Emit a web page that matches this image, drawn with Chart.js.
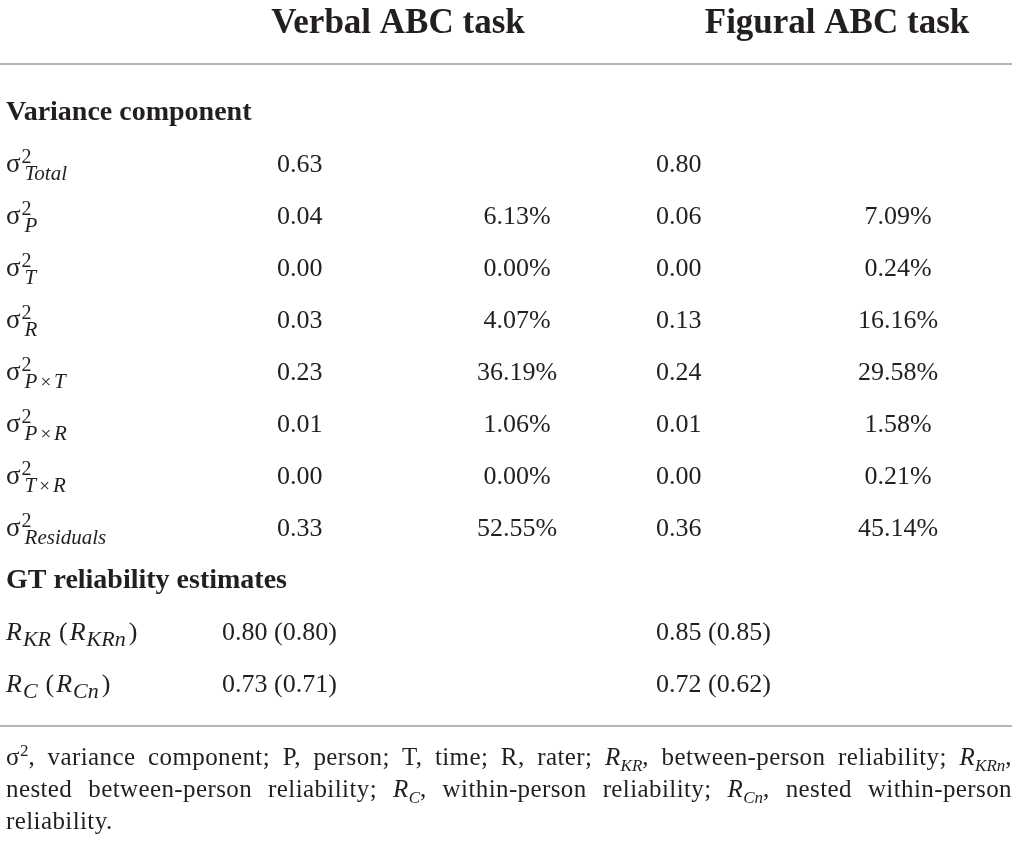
<!DOCTYPE html>
<html>
<head>
<meta charset="utf-8">
<script src="https://cdn.jsdelivr.net/npm/chart.js@4.4.1/dist/chart.umd.min.js"></script>
<style>
  body { margin: 0; background: #fff; }
  #wrap { position: relative; width: 1017px; height: 857px; }
  #note { position: absolute; left: 6px; width: 1006px; top: 741px; font: 25px "Liberation Serif", serif; letter-spacing: 0.4px; color: #231f20; line-height: 32px; }
  #note .j { text-align: justify; text-align-last: justify; }
  #note sup, #note sub { font-size: 17px; line-height: 0; letter-spacing: 0; }
</style>
</head>
<body>
<div id="wrap">
  <canvas id="tbl"></canvas>
  <div id="note">
    <div class="j">σ<sup>2</sup>, variance component; P, person; T, time; R, rater; <i>R</i><sub><i>KR</i></sub>, between-person reliability; <i>R</i><sub><i>KRn</i></sub>,</div>
    <div class="j">nested between-person reliability; <i>R</i><sub><i>C</i></sub>, within-person reliability; <i>R</i><sub><i>Cn</i></sub>, nested within-person</div>
    <div>reliability.</div>
  </div>
</div>
<script>
// table content
const taskHeaders = ['Verbal ABC task', 'Figural ABC task'];
const sectionTitles = ['Variance component', 'GT reliability estimates'];
const varianceSubscripts = ['Total', 'P', 'T', 'R', 'P×T', 'P×R', 'T×R', 'Residuals'];
const verbalVariance = [0.63, 0.04, 0.00, 0.03, 0.23, 0.01, 0.00, 0.33];
const verbalPercent = [null, 6.13, 0.00, 4.07, 36.19, 1.06, 0.00, 52.55];
const figuralVariance = [0.80, 0.06, 0.00, 0.13, 0.24, 0.01, 0.00, 0.36];
const figuralPercent = [null, 7.09, 0.24, 16.16, 29.58, 1.58, 0.21, 45.14];
const reliabilityLabels = [['KR', 'KRn'], ['C', 'Cn']];
const verbalReliability = [[0.80, 0.80], [0.73, 0.71]];
const figuralReliability = [[0.85, 0.85], [0.72, 0.62]];

// rows of the y axis, one per table line
const rowLabels = [sectionTitles[0]].concat(varianceSubscripts, [sectionTitles[1]], reliabilityLabels.map(r => r[0]));

// column anchors on the x axis (0..1017)
const COLS = { label: 6, verbalHead: 398, figuralHead: 837, verbalVar: 277, verbalRel: 222, verbalPct: 517, figuralVar: 656, figuralPct: 898, ruleEnd: 1012 };

const INK = '#231f20';
const SERIF = '"Liberation Serif", "Times New Roman", serif';

function f(size, style) { return (style || '') + ' ' + size + 'px ' + SERIF; }

// draw a run of text pieces one after another
function run(c, x, y, parts) {
  parts.forEach(p => {
    c.font = p.font;
    c.fillText(p.t, x, y + (p.dy || 0));
    x += c.measureText(p.t).width + (p.gap || 0);
  });
  return x;
}

function subParts(s, dy) {
  const bits = s.split('×');
  const out = [];
  bits.forEach((bit, i) => {
    if (i > 0) out.push({ t: '×', font: f(19), dy: dy, gap: 3 });
    out.push({ t: bit, font: f(21, 'italic'), dy: dy, gap: i < bits.length - 1 ? 3 : 0 });
  });
  return out;
}

const tablePlugin = {
  id: 'tablePlugin',
  afterDraw(chart) {
    const c = chart.ctx;
    const xs = chart.scales.x, ys = chart.scales.y;
    const X = v => xs.getPixelForValue(v);
    const Y = i => ys.getPixelForValue(i);
    c.save();
    c.fillStyle = INK;
    c.textBaseline = 'alphabetic';

    // header
    c.font = f(35, 'bold');
    c.textAlign = 'center';
    c.fillText(taskHeaders[0], X(COLS.verbalHead), ys.top - 87);
    c.fillText(taskHeaders[1], X(COLS.figuralHead), ys.top - 87);

    // rules
    c.strokeStyle = '#9b9b9b';
    c.lineWidth = 1.5;
    [ys.top - 56, ys.bottom + 34].forEach(yy => {
      c.beginPath();
      c.moveTo(X(0), yy);
      c.lineTo(X(COLS.ruleEnd), yy);
      c.stroke();
    });

    // section titles
    c.textAlign = 'left';
    c.font = f(28, 'bold');
    c.fillText(sectionTitles[0], X(COLS.label), Y(0));
    const relStart = 1 + varianceSubscripts.length;
    c.fillText(sectionTitles[1], X(COLS.label), Y(relStart));

    // variance rows
    varianceSubscripts.forEach((sub, i) => {
      const y = Y(1 + i);
      c.textAlign = 'left';
      const x1 = run(c, X(COLS.label), y, [{ t: 'σ', font: f(27) }]);
      run(c, x1 + 1, y, [{ t: '2', font: f(20), dy: -9 }]);
      run(c, x1 + 4, y, subParts(sub, 8));

      c.font = f(26);
      c.fillText(verbalVariance[i].toFixed(2), X(COLS.verbalVar), y);
      c.fillText(figuralVariance[i].toFixed(2), X(COLS.figuralVar), y);
      c.textAlign = 'center';
      if (verbalPercent[i] !== null) c.fillText(verbalPercent[i].toFixed(2) + '%', X(COLS.verbalPct), y);
      if (figuralPercent[i] !== null) c.fillText(figuralPercent[i].toFixed(2) + '%', X(COLS.figuralPct), y);
    });

    // reliability rows
    reliabilityLabels.forEach((lab, i) => {
      const y = Y(relStart + 1 + i);
      c.textAlign = 'left';
      run(c, X(COLS.label), y, [
        { t: 'R', font: f(26, 'italic'), gap: 1 },
        { t: lab[0], font: f(22, 'italic'), dy: 6, gap: 8 },
        { t: '(', font: f(26), gap: 2 },
        { t: 'R', font: f(26, 'italic'), gap: 1 },
        { t: lab[1], font: f(22, 'italic'), dy: 6, gap: 3 },
        { t: ')', font: f(26) }
      ]);
      c.font = f(26);
      const v = verbalReliability[i], g = figuralReliability[i];
      c.fillText(v[0].toFixed(2) + ' (' + v[1].toFixed(2) + ')', X(COLS.verbalRel), y);
      c.fillText(g[0].toFixed(2) + ' (' + g[1].toFixed(2) + ')', X(COLS.figuralVar), y);
    });
    c.restore();
  }
};

const ctx = document.getElementById('tbl');
ctx.parentNode.style.height = '857px';

var tableChart = new Chart(ctx, {
  type: 'scatter',
  data: { datasets: [] },
  options: {
    responsive: true,
    maintainAspectRatio: false,
    animation: false,
    events: [],
    layout: { padding: { left: 0, right: 0, top: 120, bottom: 165 } },
    scales: {
      x: { type: 'linear', min: 0, max: 1017, display: false },
      y: { type: 'category', labels: rowLabels, offset: false, display: false }
    },
    plugins: { legend: { display: false }, tooltip: { enabled: false } }
  },
  plugins: [tablePlugin]
});
</script>
</body>
</html>
